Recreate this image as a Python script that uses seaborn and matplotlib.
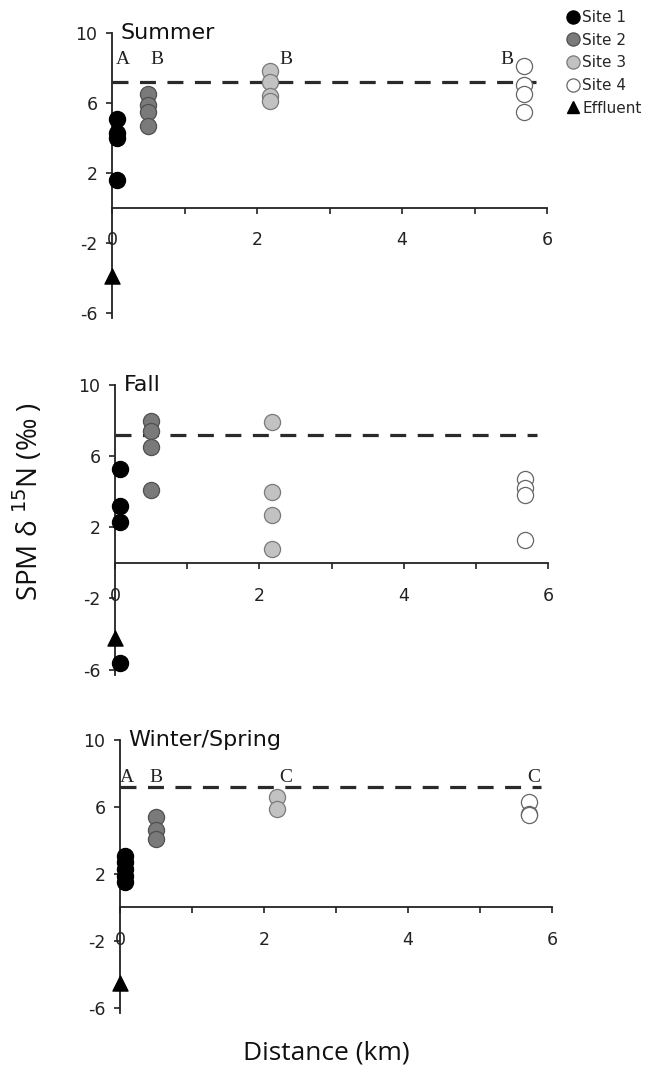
import numpy as np
import pandas as pd
import seaborn as sns
import matplotlib.pyplot as plt
from matplotlib.lines import Line2D

# sites and distance downstream (km)
site_names = ["Site 1", "Site 2", "Site 3", "Site 4"]
site_km = [0.07, 0.5, 2.18, 5.68]
effluent_km = 0.0
reference_d15n = 7.2

# SPM d15N per season (permil)
summer_site1 = [5.1, 4.3, 4.0, 1.6]
summer_site2 = [6.5, 5.9, 5.5, 4.7]
summer_site3 = [7.8, 7.2, 6.4, 6.1]
summer_site4 = [8.1, 7.0, 6.5, 5.5]
summer_effluent = [-3.9]
summer_letters = ["A", "B", "B", "B"]

fall_site1 = [5.3, 3.2, 2.3, -5.6]
fall_site2 = [8.0, 7.4, 6.5, 4.1]
fall_site3 = [7.9, 4.0, 2.7, 0.8]
fall_site4 = [4.7, 4.2, 3.8, 1.3]
fall_effluent = [-4.2]
fall_letters = []

winter_site1 = [3.1, 2.7, 2.3, 1.9, 1.5]
winter_site2 = [5.4, 4.6, 4.1]
winter_site3 = [6.6, 5.9]
winter_site4 = [6.3, 5.6, 5.5]
winter_effluent = [-4.5]
winter_letters = ["A", "B", "C", "C"]

seasons = [
    ("Summer", [summer_site1, summer_site2, summer_site3, summer_site4], summer_effluent, summer_letters),
    ("Fall", [fall_site1, fall_site2, fall_site3, fall_site4], fall_effluent, fall_letters),
    ("Winter/Spring", [winter_site1, winter_site2, winter_site3, winter_site4], winter_effluent, winter_letters),
]

face_cols = ["#000000", "#7a7a7a", "#c2c2c2", "#ffffff"]
edge_cols = ["#000000", "#505050", "#7a7a7a", "#666666"]

sns.set_style("white")
plt.rcParams["font.family"] = ["DejaVu Sans"]
plt.rcParams["axes.unicode_minus"] = False

W, H = 645, 1069
fig = plt.figure(figsize=(W / 100, H / 100), dpi=100)

# panel boxes in pixels: left, top, right, bottom
boxes = [(112, 33, 547, 318), (115, 385, 548, 675), (120, 740, 552, 1013)]
# letter placement (offset from site, height)
letter_dx = [[0.08, 0.12, 0.22, -0.23], [], [0.03, 0.0, 0.12, 0.07]]
letter_y = [8.5, None, 7.75]

for i, (title, sites, effl, letters) in enumerate(seasons):
    l, t, r, b = boxes[i]
    ax = fig.add_axes([l / W, 1 - b / H, (r - l) / W, (b - t) / H])

    rows = []
    for name, km, vals in zip(site_names, site_km, sites):
        for v in vals:
            rows.append({"site": name, "distance": km, "d15n": v})
    df = pd.DataFrame(rows)

    for j, name in enumerate(site_names):
        sns.scatterplot(data=df[df["site"] == name], x="distance", y="d15n",
                        color=face_cols[j], edgecolor=edge_cols[j], linewidth=0.9,
                        s=135, ax=ax, legend=False, clip_on=False, zorder=3)
    sns.scatterplot(x=[effluent_km] * len(effl), y=effl, marker="^", color="black",
                    edgecolor="black", s=120, ax=ax, legend=False, clip_on=False, zorder=4)

    ax.hlines(reference_d15n, 0, 5.85, colors="#2a2a2a", linewidth=2.3,
              linestyles=(0, (5, 3.6)), zorder=2)

    for k, let in enumerate(letters):
        ax.text(site_km[k] + letter_dx[i][k], letter_y[i], let, ha="center", va="center",
                fontsize=14, family=["Liberation Serif", "DejaVu Serif"], color="#222222")

    ax.text(0.12, 10, title, ha="left", va="center", fontsize=16, color="#111111")

    ax.set_xlim(0, 6)
    ax.set_ylim(-6.3, 10)
    ax.set_xticks([0, 1, 2, 3, 4, 5, 6])
    ax.set_xticklabels(["0", "", "2", "", "4", "", "6"])
    ax.set_yticks([-6, -2, 2, 6, 10])
    ax.set_xlabel("")
    ax.set_ylabel("")
    ax.patch.set_alpha(0)
    for s in ["top", "right"]:
        ax.spines[s].set_visible(False)
    ax.spines["bottom"].set_position(("data", 0))
    ax.spines["left"].set_position(("data", 0))
    for s in ["bottom", "left"]:
        ax.spines[s].set_color("#222222")
        ax.spines[s].set_linewidth(1.3)
    ax.tick_params(axis="x", direction="out", length=4, width=1.2, pad=13,
                   labelsize=12.5, colors="#222222", bottom=True)
    ax.tick_params(axis="y", direction="out", length=4.5, width=1.2, pad=6,
                   labelsize=12.5, colors="#222222", left=True)

fig.text(28 / W, 1 - 502 / H, "SPM δ $^{15}$N (‰ )", rotation=90, ha="center", va="center",
         fontsize=20, family=["Open Sans", "DejaVu Sans"], color="#111111")
fig.text(326 / W, 1 - 1053 / H, "Distance (km)", ha="center", va="center",
         fontsize=19, family=["Open Sans", "DejaVu Sans"], color="#111111")

handles = [Line2D([], [], ls="", marker="o", markersize=9.5, markerfacecolor=fc,
                  markeredgecolor=ec, markeredgewidth=0.9) for fc, ec in zip(face_cols, edge_cols)]
handles.append(Line2D([], [], ls="", marker="^", markersize=9, color="black"))
fig.legend(handles, site_names + ["Effluent"], loc="upper left",
           bbox_to_anchor=(566 / W, 1 - 10 / H), frameon=False, fontsize=11,
           handlelength=0.9, handletextpad=0.15, labelspacing=0.5, borderpad=0,
           borderaxespad=0)

fig.savefig("out.png", dpi=100)
